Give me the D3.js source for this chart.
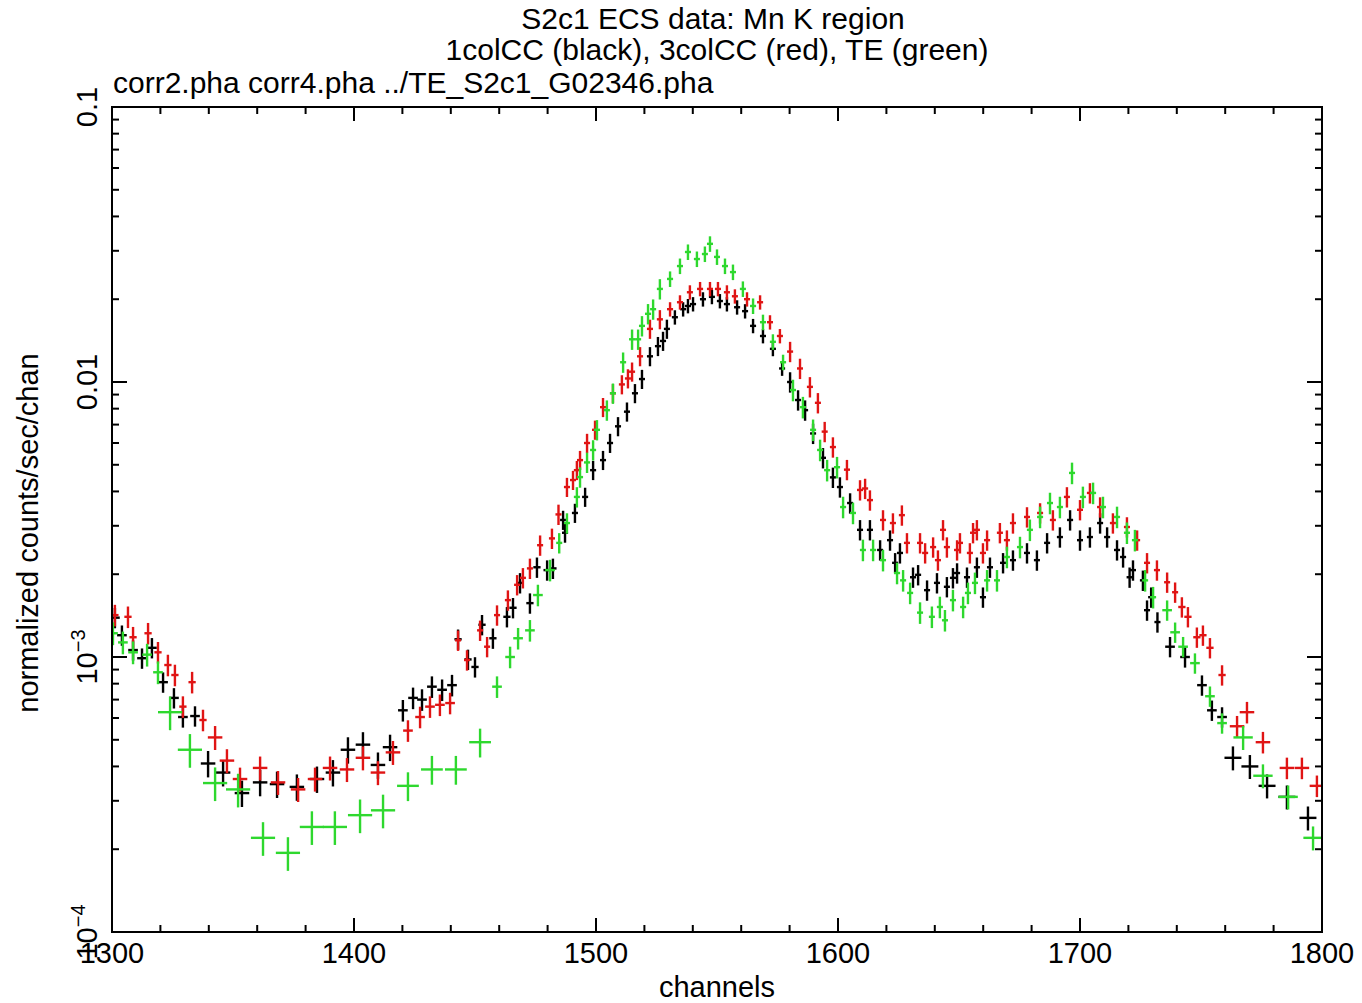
<!DOCTYPE html>
<html>
<head>
<meta charset="utf-8">
<title>S2c1 ECS data: Mn K region</title>
<style>
body { margin: 0; background: #fff; }
svg text { font-family: "Liberation Sans", Arial, sans-serif; fill: #000; }
.frame { fill: none; stroke: #000; stroke-width: 2px; }
.tick { stroke: #000; stroke-width: 2px; }
</style>
</head>
<body>
<svg width="1362" height="1003"></svg>
<script src="https://cdn.jsdelivr.net/npm/d3@7"></script>
<script>

// 1colCC (black)
var blackChan = [1301.2,1304.1,1308.7,1312.4,1316.5,1321.1,1325.6,1329.3,1334.3,1339.7,1345.9,1353.7,1361.2,1368.2,1376.4,1384.7,1391.3,1397.5,1403.7,1409.9,1414.9,
  1420.2,1424.4,1428.1,1432.2,1436.4,1440.5,1443.0,1447.1,1450.0,1452.9,1457.4,1463.2,1465.7,1468.6,1472.7,1475.6,1479.8,1482.2,
  1486.4,1487.2,1491.3,1495.5,1498.8,1502.9,1505.8,1509.1,1512.8,1516.1,1519.0,1522.3,1525.6,1527.7,1529.3,1532.6,1536.0,1538.0,1540.1,1544.2,1547.9,
  1551.2,1554.1,1558.3,1561.6,1564.9,1569.0,1573.1,1576.9,1580.2,1583.5,1586.4,1589.7,1593.8,1597.9,1600.8,1605.0,1609.1,1613.2,
  1617.4,1621.5,1623.6,1625.6,1631.0,1633.1,1636.8,1640.9,1645.0,1647.5,1649.2,1653.3,1657.4,1659.9,1662.8,1668.2,1672.3,1678.1,1682.2,1686.4,1691.7,1695.9,
  1700.0,1704.1,1708.3,1711.2,1715.3,1717.8,1720.5,1721.9,1726.0,1727.7,1729.4,1732.0,1737.2,1743.4,1750.4,1754.5,1758.7,1763.2,
  1770.2,1777.3,1785.5,1794.2];
var blackRate = [1.39e-3,1.20e-3,1.06e-3,0.99e-3,1.08e-3,8.1e-4,7.1e-4,6.05e-4,6.1e-4,4.1e-4,3.8e-4,3.2e-4,3.5e-4,3.45e-4,3.37e-4,3.6e-4,3.8e-4,4.6e-4,4.8e-4,4.05e-4,4.7e-4,
  6.4e-4,7.1e-4,7.0e-4,7.8e-4,7.6e-4,7.9e-4,1.16e-3,0.98e-3,9.2e-4,1.31e-3,1.17e-3,1.40e-3,1.51e-3,1.86e-3,1.57e-3,2.12e-3,2.07e-3,2.1e-3,
  3.15e-3,2.83e-3,3.34e-3,3.82e-3,4.78e-3,5.2e-3,6.0e-3,6.9e-3,7.8e-3,9.1e-3,1.025e-2,1.24e-2,1.35e-2,1.41e-2,1.56e-2,1.72e-2,1.84e-2,1.89e-2,1.92e-2,2.0e-2,2.04e-2,
  1.97e-2,1.92e-2,1.87e-2,1.81e-2,1.60e-2,1.47e-2,1.32e-2,1.12e-2,1.0e-2,8.6e-3,7.9e-3,6.5e-3,5.3e-3,4.5e-3,4.15e-3,3.63e-3,2.9e-3,2.9e-3,
  2.45e-3,2.66e-3,2.2e-3,2.39e-3,1.95e-3,1.99e-3,1.75e-3,1.86e-3,1.80e-3,1.94e-3,2.02e-3,1.95e-3,2.12e-3,1.65e-3,2.12e-3,2.2e-3,2.25e-3,2.39e-3,2.25e-3,2.6e-3,2.73e-3,3.15e-3,
  2.66e-3,2.73e-3,3.07e-3,2.73e-3,2.45e-3,2.31e-3,1.95e-3,2.07e-3,1.9e-3,1.48e-3,1.65e-3,1.34e-3,1.09e-3,1.0e-3,7.9e-4,6.4e-4,6.05e-4,4.3e-4,
  4.0e-4,3.4e-4,3.1e-4,2.6e-4];
// grouping: [from, to, channels per bin, fractional error]
var blackGroups = [[1300,1338,4,0.085],[1338,1420,6,0.11],[1420,1442,4,0.09],[1442,1485,3,0.085],[1485,1530,2.5,0.08],
  [1530,1580,2.5,0.06],[1580,1735,2.5,0.085],[1735,1760,4,0.085],[1760,1800,7,0.1]];

// 3colCC (red)
var redChan = [1301.2,1306.6,1308.7,1314.9,1319.0,1323.1,1326.0,1329.3,1333.1,1337.6,1342.6,1347.5,1352.9,1361.2,1368.6,1376.9,1383.9,1390.1,1397.1,1403.7,1409.9,1416.1,
  1422.3,1427.3,1431.4,1435.5,1439.7,1443.0,1446.7,1452.1,1455.0,1459.1,1463.6,1467.4,1469.8,1472.7,1476.9,1481.8,1484.5,
  1488.0,1490.5,1492.1,1493.4,1496.3,1499.6,1502.9,1507.0,1510.7,1513.2,1514.9,1518.2,1522.3,1526.4,1530.6,1534.7,1538.8,1543.0,1547.1,1550.4,1554.1,1557.4,
  1562.4,1567.8,1571.9,1576.0,1580.2,1584.3,1588.4,1591.7,1594.5,1597.9,1603.7,1609.1,1611.2,1613.2,1618.6,1622.7,1626.4,1628.5,1633.9,1636.0,1639.3,1641.3,1643.4,1645.0,
  1649.2,1650.4,1654.5,1655.8,1657.4,1659.9,1661.6,1666.9,1669.8,1672.3,1678.1,1683.5,1688.8,1694.6,1700.0,1704.1,1708.3,1713.6,1719.4,1723.6,1727.7,1731.8,1736.0,1739.3,
  1742.1,1744.6,1748.3,1750.8,1753.7,1758.7,1764.9,1769.0,1775.6,1785.5,1791.7,1797.9];
var redRate = [1.42e-3,1.40e-3,1.18e-3,1.22e-3,1.04e-3,9.35e-4,8.6e-4,6.6e-4,8.1e-4,5.9e-4,5.1e-4,4.2e-4,3.6e-4,3.95e-4,3.5e-4,3.3e-4,3.6e-4,3.95e-4,3.9e-4,4.3e-4,3.8e-4,4.5e-4,
  5.4e-4,6.05e-4,6.6e-4,6.7e-4,6.8e-4,1.15e-3,9.75e-4,1.25e-3,1.09e-3,1.42e-3,1.61e-3,1.83e-3,1.94e-3,2.1e-3,2.55e-3,2.7e-3,3.3e-3,
  4.15e-3,4.4e-3,4.78e-3,5.2e-3,6.0e-3,6.7e-3,8.1e-3,9.1e-3,9.8e-3,1.03e-2,1.09e-2,1.24e-2,1.56e-2,1.69e-2,1.84e-2,1.95e-2,2.12e-2,2.18e-2,2.18e-2,2.18e-2,2.12e-2,2.05e-2,
  2.0e-2,1.95e-2,1.65e-2,1.47e-2,1.29e-2,1.12e-2,9.6e-3,8.4e-3,6.6e-3,5.8e-3,4.8e-3,4.05e-3,4.1e-3,3.72e-3,3.15e-3,3.07e-3,3.28e-3,2.6e-3,2.6e-3,2.39e-3,2.51e-3,2.25e-3,2.9e-3,2.51e-3,
  2.45e-3,2.6e-3,2.39e-3,2.83e-3,2.9e-3,2.39e-3,2.66e-3,2.83e-3,2.66e-3,3.07e-3,3.23e-3,3.34e-3,3.15e-3,3.82e-3,3.43e-3,3.95e-3,3.51e-3,3.07e-3,2.97e-3,2.66e-3,2.2e-3,2.07e-3,1.87e-3,1.72e-3,
  1.52e-3,1.40e-3,1.18e-3,1.2e-3,1.08e-3,8.6e-4,5.6e-4,6.3e-4,4.9e-4,3.95e-4,3.95e-4,3.4e-4];
var redGroups = [[1300,1340,3,0.09],[1340,1420,6,0.10],[1420,1442,4,0.09],[1442,1485,2.5,0.085],[1485,1530,2.5,0.08],
  [1530,1580,2.5,0.06],[1580,1740,2.5,0.085],[1740,1760,3,0.085],[1760,1800,6,0.09]];

// TE (green)
var greenChan = [1300.4,1304.5,1308.7,1314.5,1319.0,1324.0,1332.2,1342.6,1352.1,1362.4,1372.7,1382.6,1392.1,1402.5,1412.0,1422.3,1432.2,1442.1,1452.1,
  1459.1,1464.5,1467.8,1472.7,1476.0,1481.0,1484.8,1488.0,1492.1,1493.4,1496.3,1498.8,1500.4,1504.5,1507.0,1511.2,1514.9,1517.4,1519.0,1521.5,1523.6,1526.4,1530.6,1534.7,
  1538.0,1541.7,1545.0,1547.1,1550.0,1553.3,1556.6,1560.7,1564.9,1569.0,1573.1,1577.3,1581.4,1585.5,1589.7,1592.6,1595.5,1599.6,1602.1,1606.2,
  1610.3,1614.5,1618.6,1624.4,1626.9,1629.8,1633.9,1638.8,1642.1,1644.2,1647.5,1651.7,1653.7,1656.6,1661.6,1665.7,1669.8,1675.2,1679.3,1683.5,1687.6,1691.7,1696.7,
  1701.2,1705.4,1709.5,1715.3,1719.4,1722.7,1726.9,1730.2,1736.0,1739.3,1742.6,1747.5,1753.7,1758.7,1767.4,1775.6,1786.0,1796.3];
var greenRate = [1.22e-3,1.13e-3,1.04e-3,1.02e-3,8.8e-4,6.3e-4,4.6e-4,3.48e-4,3.3e-4,2.2e-4,1.94e-4,2.41e-4,2.41e-4,2.66e-4,2.77e-4,3.4e-4,3.9e-4,3.9e-4,4.9e-4,
  7.8e-4,1.0e-3,1.17e-3,1.25e-3,1.68e-3,2.07e-3,2.6e-3,3.07e-3,3.82e-3,4.51e-3,5.1e-3,5.66e-3,6.7e-3,7.9e-3,9.1e-3,1.18e-2,1.43e-2,1.43e-2,1.6e-2,1.77e-2,1.84e-2,2.18e-2,2.37e-2,2.64e-2,
  2.97e-2,2.8e-2,2.92e-2,3.18e-2,2.85e-2,2.64e-2,2.51e-2,2.18e-2,1.89e-2,1.65e-2,1.4e-2,1.18e-2,9.35e-3,8.1e-3,6.7e-3,5.66e-3,4.78e-3,4.9e-3,3.51e-3,3.34e-3,
  2.45e-3,2.45e-3,2.25e-3,2.02e-3,1.9e-3,1.71e-3,1.45e-3,1.40e-3,1.52e-3,1.36e-3,1.61e-3,1.52e-3,1.71e-3,1.86e-3,1.9e-3,1.9e-3,2.31e-3,2.51e-3,2.9e-3,3.23e-3,3.63e-3,3.51e-3,4.67e-3,
  3.82e-3,3.95e-3,3.51e-3,3.23e-3,2.83e-3,2.66e-3,1.9e-3,1.65e-3,1.48e-3,1.23e-3,1.09e-3,9.5e-4,7.2e-4,5.75e-4,5.1e-4,3.7e-4,3.1e-4,2.2e-4];
var greenGroups = [[1300,1320,4,0.095],[1320,1420,10,0.14],[1420,1456,9,0.12],[1456,1484,4,0.09],[1484,1530,2.5,0.085],
  [1530,1580,2.5,0.065],[1580,1735,2.5,0.09],[1735,1760,4,0.085],[1760,1800,8,0.1]];

var series = [
  { chan: blackChan, rate: blackRate, groups: blackGroups, color: "#000000" },
  { chan: redChan, rate: redRate, groups: redGroups, color: "#e01414" },
  { chan: greenChan, rate: greenRate, groups: greenGroups, color: "#2ed82e" }
];

var svg = d3.select("svg");
var pLeft = 112, pRight = 1322, pTop = 107, pBottom = 932;

var x = d3.scaleLinear().domain([1300, 1800]).range([pLeft, pRight]);
var y = d3.scaleLog().domain([1e-4, 0.1]).range([pBottom, pTop]);

svg.append("clipPath").attr("id", "plotclip")
  .append("rect").attr("x", pLeft).attr("y", pTop).attr("width", pRight - pLeft).attr("height", pBottom - pTop);

function groupOf(groups, c) {
  for (var i = 0; i < groups.length; i++) {
    if (c >= groups[i][0] && c < groups[i][1]) return groups[i];
  }
  return groups[groups.length - 1];
}

var plot = svg.append("g").attr("clip-path", "url(#plotclip)");

series.forEach(function(s) {
  var pts = s.chan.map(function(c, i) {
    var gr = groupOf(s.groups, c);
    var v = s.rate[i];
    return { c: c, v: v, w: gr[2], err: v * gr[3] };
  });
  var g = plot.append("g").attr("stroke", s.color).attr("stroke-width", 2.4);
  g.selectAll("line.h").data(pts).enter().append("line")
    .attr("x1", function(d) { return x(d.c - d.w / 2); })
    .attr("x2", function(d) { return x(d.c + d.w / 2); })
    .attr("y1", function(d) { return y(d.v); })
    .attr("y2", function(d) { return y(d.v); });
  g.selectAll("line.v").data(pts).enter().append("line")
    .attr("x1", function(d) { return x(d.c); })
    .attr("x2", function(d) { return x(d.c); })
    .attr("y1", function(d) { return y(d.v + d.err); })
    .attr("y2", function(d) { return y(d.v - d.err); });
});

// frame
svg.append("rect").attr("class", "frame")
  .attr("x", pLeft).attr("y", pTop).attr("width", pRight - pLeft).attr("height", pBottom - pTop);

// x ticks (inward, top and bottom)
var xt = d3.range(1300, 1801, 20);
var ax = svg.append("g");
xt.forEach(function(t) {
  var len = (t % 100 === 0) ? 14 : 7;
  ax.append("line").attr("class", "tick").attr("x1", x(t)).attr("x2", x(t)).attr("y1", pBottom).attr("y2", pBottom - len);
  ax.append("line").attr("class", "tick").attr("x1", x(t)).attr("x2", x(t)).attr("y1", pTop).attr("y2", pTop + len);
});
var xLabels = [1300, 1400, 1500, 1600, 1700, 1800];
ax.selectAll("text.xl").data(xLabels).enter().append("text")
  .attr("x", function(d) { return x(d); })
  .attr("y", 963)
  .attr("text-anchor", "middle")
  .attr("font-size", 29)
  .text(function(d) { return d; });

// y ticks (log)
var yt = [];
[1e-4, 1e-3, 1e-2].forEach(function(dec) {
  for (var k = 1; k <= 9; k++) yt.push({ v: dec * k, major: k === 1 });
});
yt.push({ v: 0.1, major: true });
yt.forEach(function(t) {
  var len = t.major ? 15 : 7;
  ax.append("line").attr("class", "tick").attr("x1", pLeft).attr("x2", pLeft + len).attr("y1", y(t.v)).attr("y2", y(t.v));
  ax.append("line").attr("class", "tick").attr("x1", pRight).attr("x2", pRight - len).attr("y1", y(t.v)).attr("y2", y(t.v));
});

var yLabels = [
  { v: 0.1, base: "0.1", exp: null },
  { v: 0.01, base: "0.01", exp: null },
  { v: 1e-3, base: "10", exp: "\u22123" },
  { v: 1e-4, base: "10", exp: "\u22124" }
];
yLabels.forEach(function(l) {
  var t = ax.append("text")
    .attr("transform", "translate(97," + y(l.v) + ") rotate(-90)")
    .attr("text-anchor", "middle")
    .attr("font-size", 29);
  t.append("tspan").text(l.base);
  if (l.exp) t.append("tspan").attr("font-size", 20).attr("dy", -12).text(l.exp);
});

// axis titles
svg.append("text")
  .attr("x", (pLeft + pRight) / 2).attr("y", 997)
  .attr("text-anchor", "middle").attr("font-size", 29)
  .text("channels");
svg.append("text")
  .attr("transform", "translate(38,533) rotate(-90)")
  .attr("text-anchor", "middle").attr("font-size", 29)
  .text("normalized counts/sec/chan");

// titles
svg.append("text").attr("x", 713).attr("y", 29).attr("text-anchor", "middle").attr("font-size", 30)
  .text("S2c1 ECS data: Mn K region");
svg.append("text").attr("x", 717).attr("y", 60).attr("text-anchor", "middle").attr("font-size", 30)
  .text("1colCC (black), 3colCC (red), TE (green)");
svg.append("text").attr("x", 113).attr("y", 93).attr("font-size", 30)
  .text("corr2.pha corr4.pha ../TE_S2c1_G02346.pha");

</script>
</body>
</html>
